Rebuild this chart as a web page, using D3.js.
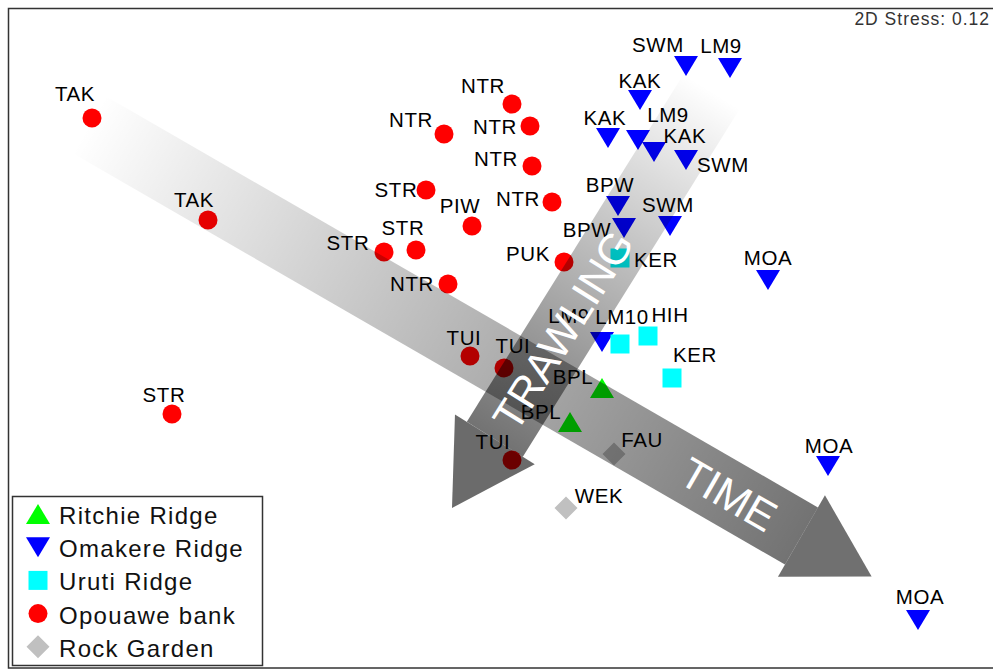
<!DOCTYPE html>
<html>
<head>
<meta charset="utf-8">
<script src="https://cdn.jsdelivr.net/npm/d3@7"></script>
<style>
  body { margin: 0; background: #fff; }
  text { font-family: "Liberation Sans", Arial, sans-serif; }
</style>
</head>
<body>
<script>
// groups in legend order
var groups = ["Ritchie Ridge", "Omakere Ridge", "Uruti Ridge", "Opouawe bank", "Rock Garden"];
var groupColors = ["#00ff00", "#0000ff", "#00ffff", "#ff0000", "#c0c0c0"];

// nMDS sample labels, coordinates and group index
var sites = ["TAK","TAK","STR","NTR","NTR","NTR","NTR","STR","NTR","PIW","STR","STR","NTR","PUK","TUI","TUI","TUI",
             "SWM","LM9","KAK","KAK","LM9","KAK","SWM","BPW","SWM","BPW","MOA","LM9","MOA","MOA",
             "KER","LM10","HIH","KER",
             "BPL","BPL",
             "FAU","WEK"];
var mds1 = [-2.04,-1.46,-1.64,0.06,-0.28,0.15,0.16,-0.37,0.26,-0.14,-0.58,-0.42,-0.26,0.32,-0.15,0.02,0.06,
            0.93,1.15,0.70,0.54,0.69,0.77,0.93,0.59,0.85,0.62,1.34,0.51,1.64,2.09,
            0.60,0.60,0.74,0.86,
            0.51,0.35,
            0.57,0.33];
var mds2 = [1.11,0.60,-0.37,1.18,1.03,1.07,0.87,0.75,0.69,0.57,0.44,0.45,0.28,0.39,-0.08,-0.14,-0.60,
            1.37,1.36,1.20,1.01,1.00,0.94,0.90,0.67,0.57,0.56,0.30,-0.01,-0.63,-1.40,
            0.41,-0.02,0.02,-0.19,
            -0.24,-0.41,
            -0.57,-0.84];
var siteGroup = [3,3,3,3,3,3,3,3,3,3,3,3,3,3,3,3,3,
                 1,1,1,1,1,1,1,1,1,1,1,1,1,1,
                 2,2,2,2,
                 0,0,
                 4,4];
var stress = "0.12";

// where each label sits relative to its symbol (px)
var labelOffsets = [[-17,-17],[-14,-13],[-8,-12],[-29,-11],[-33,-7],[-35,8],[-36,0],[-30,7],[-34,4],[-12,-13],
                    [-36,-2],[-13,-15],[-36,7],[-36,-1],[-6,-11],[9,-15],[-19,-11],
                    [-28,-14],[-9,-15],[0,-12],[-3,-13],[30,-18],[31,-9],[37,12],[-8,-14],[-2,-14],[-37,9],
                    [0,-15],[-33,-19],[1,-13],[2,-16],
                    [36,9],[2,-20],[22,-14],[23,-16],
                    [-29,-4],[-29,-3],
                    [28,-7],[33,-5]];

// annotation arrows, start and tip in nMDS units
var arrows = [
  {name: "TIME",     start: [-2.06, 1.08], tip: [1.858, -1.1825], textAt: 740, headOpacity: 0.56},
  {name: "TRAWLING", start: [1.06, 1.245], tip: [-0.24, -0.84],   textAt: 282, headOpacity: 0.58}
];

var width = 993, height = 670;

var svg = d3.select("body").append("svg")
    .attr("width", width)
    .attr("height", height);

var x = d3.scaleLinear().domain([-2.5, 2.5]).range([0, 1000]);
var y = d3.scaleLinear().domain([-1.7, 1.7]).range([680, 0]);

// outer frame (right side runs off the picture)
svg.append("rect")
    .attr("x", 8.5).attr("y", 8.5)
    .attr("width", 995).attr("height", 659.5)
    .attr("fill", "none").attr("stroke", "#333").attr("stroke-width", 1.5);

function symbolPath(g, cx, cy) {
  var p = d3.path();
  if (g === 0) {          // triangle up
    p.moveTo(cx, cy - 10); p.lineTo(cx + 12, cy + 10); p.lineTo(cx - 12, cy + 10); p.closePath();
  } else if (g === 1) {   // triangle down
    p.moveTo(cx - 12, cy - 10); p.lineTo(cx + 12, cy - 10); p.lineTo(cx, cy + 10); p.closePath();
  } else if (g === 2) {   // square
    p.rect(cx - 9.5, cy - 9.5, 19, 19);
  } else if (g === 3) {   // circle
    p.moveTo(cx + 9.5, cy); p.arc(cx, cy, 9.5, 0, 2 * Math.PI);
  } else {                // diamond
    p.moveTo(cx, cy - 11.5); p.lineTo(cx + 11.5, cy); p.lineTo(cx, cy + 11.5); p.lineTo(cx - 11.5, cy); p.closePath();
  }
  return p.toString();
}

var points = sites.map(function(s, i) {
  return {label: s, x: mds1[i], y: mds2[i], g: siteGroup[i], off: labelOffsets[i]};
});

// points
svg.append("g").selectAll("path")
    .data(points)
    .enter()
    .append("path")
    .attr("d", function(d) { return symbolPath(d.g, x(d.x), y(d.y)); })
    .attr("fill", function(d) { return groupColors[d.g]; });

// labels
svg.append("g").selectAll("text")
    .data(points)
    .enter()
    .append("text")
    .attr("x", function(d) { return x(d.x) + d.off[0]; })
    .attr("y", function(d) { return y(d.y) + d.off[1]; })
    .attr("text-anchor", "middle")
    .attr("font-size", "20.5px")
    .attr("letter-spacing", "0.6px")
    .attr("fill", "#000")
    .text(function(d) { return d.label; });

// arrows: translucent black so the points beneath darken
var defs = svg.append("defs");
var arrowG = svg.append("g");
var textG = svg.append("g");

arrows.forEach(function(a, i) {
  var sx = x(a.start[0]), sy = y(a.start[1]);
  var tx = x(a.tip[0]), ty = y(a.tip[1]);
  var len = Math.hypot(tx - sx, ty - sy);
  var ux = (tx - sx) / len, uy = (ty - sy) / len;
  var nx = -uy, ny = ux;
  var headLen = 81, shaftW = 33, headW = 47;
  var hx = tx - headLen * ux, hy = ty - headLen * uy;

  var grad = defs.append("linearGradient")
      .attr("id", "grad" + i)
      .attr("gradientUnits", "userSpaceOnUse")
      .attr("x1", sx).attr("y1", sy).attr("x2", hx).attr("y2", hy);
  grad.append("stop").attr("offset", 0).attr("stop-color", "#000").attr("stop-opacity", 0);
  grad.append("stop").attr("offset", 1).attr("stop-color", "#000").attr("stop-opacity", 0.55);

  var shaft = [[sx + shaftW * nx, sy + shaftW * ny], [hx + shaftW * nx, hy + shaftW * ny],
               [hx - shaftW * nx, hy - shaftW * ny], [sx - shaftW * nx, sy - shaftW * ny]];
  var head = [[hx + headW * nx, hy + headW * ny], [tx, ty], [hx - headW * nx, hy - headW * ny]];
  var line = d3.line().curve(d3.curveLinearClosed);

  arrowG.append("path").attr("d", line(shaft)).attr("fill", "url(#grad" + i + ")");
  arrowG.append("path").attr("d", line(head)).attr("fill", "#000").attr("fill-opacity", a.headOpacity);

  var cx = sx + a.textAt * ux, cy = sy + a.textAt * uy;
  var ang = Math.atan2(uy, ux) * 180 / Math.PI;
  if (ang > 90) ang -= 180;
  textG.append("text")
      .attr("transform", "translate(" + cx + "," + cy + ") rotate(" + ang + ")")
      .attr("text-anchor", "middle")
      .attr("dy", "0.36em")
      .attr("font-size", "43px")
      .attr("fill", "#fff")
      .text(a.name);
});

// stress value
svg.append("text")
    .attr("x", 990).attr("y", 25)
    .attr("text-anchor", "end")
    .attr("font-size", "17.5px")
    .attr("letter-spacing", "1px")
    .attr("fill", "#333")
    .text("2D Stress: " + stress);

// legend
var legend = svg.append("g");
legend.append("rect")
    .attr("x", 12.5).attr("y", 496.5)
    .attr("width", 250).attr("height", 169)
    .attr("fill", "#fff").attr("stroke", "#333").attr("stroke-width", 1.5);

var rows = legend.selectAll("g.row")
    .data(groups)
    .enter()
    .append("g")
    .attr("class", "row");

rows.append("path")
    .attr("d", function(d, i) { return symbolPath(i, 38, 514 + i * 33.2); })
    .attr("fill", function(d, i) { return groupColors[i]; });

rows.append("text")
    .attr("x", 59)
    .attr("y", function(d, i) { return 524 + i * 33.2; })
    .attr("font-size", "24px")
    .attr("letter-spacing", "1.3px")
    .attr("fill", "#111")
    .text(function(d) { return d; });
</script>
</body>
</html>
